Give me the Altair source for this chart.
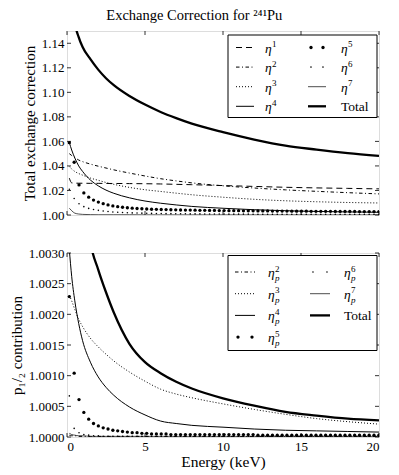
import altair as alt
import pandas as pd

FONT = "Liberation Serif"
W, H = 312, 184

# ---------------- data ----------------
X_TICKS = [0, 5, 10, 15, 20]
TOP_Y_TICKS = [1.00, 1.02, 1.04, 1.06, 1.08, 1.10, 1.12, 1.14]
BOT_Y_TICKS = [1.0000, 1.0005, 1.0010, 1.0015, 1.0020, 1.0025, 1.0030]

E_LINE = [0.15, 0.3, 0.5, 0.75, 1.0, 1.5, 2.0, 2.5, 3.0, 4.0, 5.0, 6.0, 7.0,
          8.0, 10.0, 12.0, 14.0, 16.0, 18.0, 20.0]

E_MARK = [0.15, 0.46, 0.77, 1.08, 1.39, 1.70, 2.01, 2.32, 2.63, 2.94, 3.25,
          3.56, 3.87, 4.18, 4.49, 4.80, 5.11, 5.42, 5.73, 6.04, 6.35, 6.66,
          6.97, 7.28, 7.59, 7.90, 8.21, 8.52, 8.83, 9.14, 9.45, 9.76, 10.07,
          10.38, 10.69, 11.00, 11.31, 11.62, 11.93, 12.24, 12.55, 12.86,
          13.17, 13.48, 13.79, 14.10, 14.41, 14.72, 15.03, 15.34, 15.65,
          15.96, 16.27, 16.58, 16.89, 17.20, 17.51, 17.82, 18.13, 18.44,
          18.75, 19.06, 19.37, 19.68, 19.99]

# top panel (total exchange correction)
ETA1 = [1.0300, 1.0262, 1.0260, 1.0259, 1.0259, 1.0258, 1.0258, 1.0257, 1.0257,
        1.0256, 1.0255, 1.0253, 1.0250, 1.0247, 1.0240, 1.0233, 1.0226, 1.0221,
        1.0217, 1.0213]
ETA2 = [1.0500, 1.0485, 1.0468, 1.0448, 1.0435, 1.0415, 1.0398, 1.0383, 1.0368,
        1.0342, 1.0318, 1.0296, 1.0278, 1.0262, 1.0238, 1.0220, 1.0205, 1.0193,
        1.0182, 1.0172]
ETA3 = [1.0395, 1.0375, 1.0355, 1.0338, 1.0325, 1.0301, 1.0283, 1.0265, 1.0250,
        1.0225, 1.0206, 1.0192, 1.0178, 1.0165, 1.0145, 1.0128, 1.0116, 1.0108,
        1.0102, 1.0098]
ETA4 = [1.0590, 1.0530, 1.0465, 1.0400, 1.0355, 1.0285, 1.0238, 1.0203, 1.0177,
        1.0140, 1.0114, 1.0096, 1.0082, 1.0070, 1.0055, 1.0043, 1.0035, 1.0029,
        1.0025, 1.0022]
ETA7 = [1.0055, 1.0035, 1.0015, 1.0008, 1.0005, 1.0003, 1.0002, 1.0002, 1.0002,
        1.0002, 1.0001, 1.0001, 1.0001, 1.0001, 1.0001, 1.0001, 1.0001, 1.0001,
        1.0001, 1.0001]
TOTAL_TOP = [1.3200, 1.2200, 1.1580, 1.1450, 1.1370, 1.1270, 1.1185, 1.1115,
             1.1058, 1.0970, 1.0900, 1.0840, 1.0790, 1.0745, 1.0675, 1.0615,
             1.0565, 1.0533, 1.0505, 1.0482]
ETA5 = [1.0590, 1.0430, 1.0245, 1.0180, 1.0145, 1.0122, 1.0105, 1.0092, 1.0082,
        1.0074, 1.0068, 1.0063, 1.0059, 1.0056, 1.0053, 1.0051, 1.0049, 1.0047,
        1.0046, 1.0045, 1.0044, 1.0043, 1.0042, 1.0041, 1.0040, 1.0040, 1.0039,
        1.0038, 1.0038, 1.0037, 1.0037, 1.0036, 1.0036, 1.0035, 1.0035, 1.0035,
        1.0034, 1.0034, 1.0034, 1.0033, 1.0033, 1.0033, 1.0032, 1.0032, 1.0032,
        1.0032, 1.0031, 1.0031, 1.0031, 1.0031, 1.0030, 1.0030, 1.0030, 1.0030,
        1.0030, 1.0029, 1.0029, 1.0029, 1.0029, 1.0029, 1.0028, 1.0028, 1.0028,
        1.0028, 1.0028]
ETA6 = [1.0210, 1.0135, 1.0092, 1.0068, 1.0054, 1.0045, 1.0038, 1.0032, 1.0028,
        1.0025, 1.0022, 1.0020, 1.0018, 1.0017, 1.0016, 1.0015, 1.0014, 1.0013,
        1.0012, 1.0012, 1.0011, 1.0011, 1.0010, 1.0010, 1.0010, 1.0009, 1.0009,
        1.0009, 1.0008, 1.0008, 1.0008, 1.0008, 1.0008, 1.0007, 1.0007, 1.0007,
        1.0007, 1.0007, 1.0006, 1.0006, 1.0006, 1.0006, 1.0006, 1.0006, 1.0006,
        1.0006, 1.0006, 1.0005, 1.0005, 1.0005, 1.0005, 1.0005, 1.0005, 1.0005,
        1.0005, 1.0005, 1.0005, 1.0005, 1.0005, 1.0005, 1.0005, 1.0005, 1.0005,
        1.0005, 1.0005]

# bottom panel (p_1/2 contribution)
ETAP2 = [1.00003, 1.00002, 1.00002, 1.00001, 1.00001, 1.00001, 1.00001, 1.00001,
         1.00001, 1.00001, 1.00001, 1.00001, 1.00001, 1.00001, 1.00001, 1.00001,
         1.00001, 1.00001, 1.00001, 1.00001]
ETAP3 = [1.00231, 1.00222, 1.00208, 1.00192, 1.00180, 1.00161, 1.00147, 1.00135,
         1.00124, 1.00106, 1.00091, 1.00078, 1.00070, 1.00064, 1.00054, 1.00045,
         1.00037, 1.00030, 1.00025, 1.00021]
ETAP4 = [1.00305, 1.00262, 1.00222, 1.00185, 1.00157, 1.00122, 1.00098, 1.00081,
         1.00068, 1.00049, 1.00036, 1.00026, 1.00022, 1.00019, 1.00016, 1.00013,
         1.00011, 1.00010, 1.00009, 1.00008]
ETAP7 = [1.00006, 1.00004, 1.00003, 1.00002, 1.00002, 1.00001, 1.00001, 1.00001,
         1.00001, 1.00001, 1.00001, 1.00001, 1.00001, 1.00001, 1.00001, 1.00001,
         1.00001, 1.00001, 1.00001, 1.00001]
TOTAL_BOT = [1.01100, 1.00850, 1.00660, 1.00520, 1.00430, 1.00318, 1.00273,
             1.00236, 1.00203, 1.00152, 1.00122, 1.00104, 1.00090, 1.00079,
             1.00063, 1.00051, 1.00041, 1.00035, 1.00030, 1.00027]
ETAP5 = [1.00229, 1.00104, 1.00061, 1.00040, 1.00029, 1.00022, 1.00018, 1.00015,
         1.00013, 1.00011, 1.00010, 1.00009, 1.00008, 1.00007, 1.00007, 1.00006,
         1.00006, 1.00005, 1.00005, 1.00005, 1.00005, 1.00004, 1.00004, 1.00004,
         1.00004, 1.00004, 1.00004, 1.00004, 1.00004, 1.00004, 1.00004, 1.00004,
         1.00004, 1.00004, 1.00004, 1.00004, 1.00004, 1.00004, 1.00004, 1.00003,
         1.00003, 1.00003, 1.00003, 1.00003, 1.00003, 1.00003, 1.00003, 1.00003,
         1.00003, 1.00003, 1.00003, 1.00003, 1.00003, 1.00003, 1.00003, 1.00003,
         1.00003, 1.00003, 1.00003, 1.00003, 1.00003, 1.00003, 1.00003, 1.00003,
         1.00003]
ETAP6 = [1.00067, 1.00014, 1.00007, 1.00004, 1.00003, 1.00002, 1.00002, 1.00001,
         1.00001, 1.00001, 1.00001, 1.00001, 1.00001, 1.00001, 1.00001, 1.00001,
         1.00001, 1.00001, 1.00001, 1.00001, 1.00001, 1.00001, 1.00001, 1.00001,
         1.00001, 1.00001, 1.00001, 1.00001, 1.00001, 1.00001, 1.00001, 1.00001,
         1.00001, 1.00001, 1.00001, 1.00001, 1.00001, 1.00001, 1.00001, 1.00001,
         1.00001, 1.00001, 1.00001, 1.00001, 1.00001, 1.00001, 1.00001, 1.00001,
         1.00001, 1.00001, 1.00001, 1.00001, 1.00001, 1.00001, 1.00001, 1.00001,
         1.00001, 1.00001, 1.00001, 1.00001, 1.00001, 1.00001, 1.00001, 1.00001,
         1.00001]

# ---------------- styles ----------------
STYLES = {
    "dash": dict(kind="line", dash=[6, 4], width=1.0),
    "dashdot": dict(kind="line", dash=[3.5, 2.5, 1, 2.5], width=1.0),
    "dot": dict(kind="line", dash=[1, 2], width=1.0),
    "solid": dict(kind="line", dash=None, width=1.0),
    "thin": dict(kind="line", dash=None, width=0.7),
    "thick": dict(kind="line", dash=None, width=2.3),
    "bigdot": dict(kind="mark", size=11),
    "smalldot": dict(kind="mark", size=2.5),
}

ONE = pd.DataFrame({"k": [0]})


def legend_layers(entries, box, rows, cols):
    bx0, bx1, by0, by1 = box
    layers = [alt.Chart(ONE).mark_rect(fill="white", stroke="black", strokeWidth=1).encode(
        x=alt.value(bx0), x2=alt.value(bx1), y=alt.value(by0), y2=alt.value(by1))]
    for col, row, main, sup, sub, style in entries:
        sx0, sx1, lx = cols[col]
        yy = rows[row]
        st = STYLES[style]
        if st["kind"] == "line":
            kw = dict(color="black", strokeWidth=st["width"])
            if st["dash"]:
                kw["strokeDash"] = st["dash"]
            layers.append(alt.Chart(ONE).mark_rule(**kw).encode(
                x=alt.value(sx0), x2=alt.value(sx1), y=alt.value(yy)))
        else:
            for px in (sx0 + 3, sx1 - 3):
                layers.append(alt.Chart(ONE).mark_circle(
                    color="black", opacity=1, size=st["size"]).encode(
                    x=alt.value(px), y=alt.value(yy)))
        italic = main == "η"
        layers.append(alt.Chart(ONE).mark_text(
            text=main, font=FONT, fontSize=13.5, align="left", baseline="middle",
            fontStyle="italic" if italic else "normal", color="black").encode(
            x=alt.value(lx), y=alt.value(yy + 1)))
        if sup:
            layers.append(alt.Chart(ONE).mark_text(
                text=sup, font=FONT, fontSize=9, align="left", baseline="middle",
                color="black").encode(x=alt.value(lx + 7), y=alt.value(yy - 3.5)))
        if sub:
            layers.append(alt.Chart(ONE).mark_text(
                text=sub, font=FONT, fontSize=9, align="left", baseline="middle",
                fontStyle="italic", color="black").encode(
                x=alt.value(lx + 7), y=alt.value(yy + 6)))
    return layers


def panel(line_series, mark_series, ydomain, yticks, yfmt, ytitle, xaxis_on,
          legend):
    xs = alt.Scale(domain=[0, 20], nice=False, zero=False)
    ys = alt.Scale(domain=ydomain, nice=False, zero=False)
    if xaxis_on:
        xaxis = alt.Axis(values=X_TICKS, format="d", ticks=False, domain=False,
                         grid=False, labelFont=FONT, labelFontSize=13,
                         labelColor="black", labelPadding=3, title="Energy (keV)",
                         titleFont=FONT, titleFontSize=15.5, titleFontWeight="normal",
                         titleColor="black", titlePadding=1)
    else:
        xaxis = None
    yaxis = alt.Axis(values=yticks, format=yfmt, ticks=False, domain=False,
                     grid=False, labelFont=FONT, labelFontSize=13,
                     labelColor="black", labelPadding=3, title=ytitle,
                     titleFont=FONT, titleFontSize=15, titleFontWeight="normal",
                     titleColor="black", titlePadding=4)
    layers = []
    for vals, style in line_series:
        st = STYLES[style]
        df = pd.DataFrame({"E": E_LINE, "v": vals})
        kw = dict(color="black", strokeWidth=st["width"], clip=True,
                  interpolate="monotone")
        if st["dash"]:
            kw["strokeDash"] = st["dash"]
        layers.append(alt.Chart(df).mark_line(**kw).encode(
            x=alt.X("E:Q", scale=xs, axis=xaxis),
            y=alt.Y("v:Q", scale=ys, axis=yaxis)))
    for vals, style in mark_series:
        st = STYLES[style]
        df = pd.DataFrame({"E": E_MARK, "v": vals})
        layers.append(alt.Chart(df).mark_circle(
            color="black", opacity=1, size=st["size"], clip=True).encode(
            x=alt.X("E:Q", scale=xs, axis=xaxis),
            y=alt.Y("v:Q", scale=ys, axis=yaxis)))
    # inward ticks on all four sides
    xt = pd.DataFrame({"E": X_TICKS})
    yt = pd.DataFrame({"v": yticks})
    for y0, y1 in ((H, H - 4), (0, 4)):
        layers.append(alt.Chart(xt).mark_rule(color="black", strokeWidth=0.8).encode(
            x=alt.X("E:Q", scale=xs, axis=xaxis), y=alt.value(y0), y2=alt.value(y1)))
    for x0, x1 in ((0, 4), (W, W - 4)):
        layers.append(alt.Chart(yt).mark_rule(color="black", strokeWidth=0.8).encode(
            y=alt.Y("v:Q", scale=ys, axis=yaxis), x=alt.value(x0), x2=alt.value(x1)))
    layers += legend
    return alt.layer(*layers).properties(width=W, height=H)


top_legend = legend_layers(
    [(0, 0, "η", "1", None, "dash"), (0, 1, "η", "2", None, "dashdot"),
     (0, 2, "η", "3", None, "dot"), (0, 3, "η", "4", None, "solid"),
     (1, 0, "η", "5", None, "bigdot"), (1, 1, "η", "6", None, "smalldot"),
     (1, 2, "η", "7", None, "thin"), (1, 3, "Total", None, None, "thick")],
    box=(161, 310, 4, 86.5),
    rows=[16.5, 36.1, 55.7, 75.3],
    cols=[(169, 187, 198), (241, 259, 274)])

bot_legend = legend_layers(
    [(0, 0, "η", "2", "p", "dashdot"), (0, 1, "η", "3", "p", "dot"),
     (0, 2, "η", "4", "p", "solid"), (0, 3, "η", "5", "p", "bigdot"),
     (1, 0, "η", "6", "p", "smalldot"), (1, 1, "η", "7", "p", "thin"),
     (1, 2, "Total", None, None, "thick")],
    box=(161, 310, 2.5, 97.5),
    rows=[19, 40.7, 62.4, 84.1],
    cols=[(168, 188, 201), (243, 263, 277)])

top = panel(
    [(ETA1, "dash"), (ETA2, "dashdot"), (ETA3, "dot"), (ETA4, "solid"),
     (ETA7, "thin"), (TOTAL_TOP, "thick")],
    [(ETA5, "bigdot"), (ETA6, "smalldot")],
    [1.0, 1.15], TOP_Y_TICKS, ".2f", "Total exchange correction", False,
    top_legend)

bottom = panel(
    [(ETAP2, "dashdot"), (ETAP3, "dot"), (ETAP4, "solid"), (ETAP7, "thin"),
     (TOTAL_BOT, "thick")],
    [(ETAP5, "bigdot"), (ETAP6, "smalldot")],
    [1.0, 1.003], BOT_Y_TICKS, ".4f", "p₁/₂ contribution", True,
    bot_legend)

chart = alt.vconcat(top, bottom, spacing=23).properties(
    title=alt.Title("Exchange Correction for ²⁴¹Pu", font=FONT, fontSize=14.5,
                    fontWeight="normal", color="black", anchor="middle", offset=6.5),
    padding=0,
).configure_view(stroke="black", strokeWidth=1).configure(background="white")

chart.save("out.html", embed_options={"renderer": "svg", "actions": False})
